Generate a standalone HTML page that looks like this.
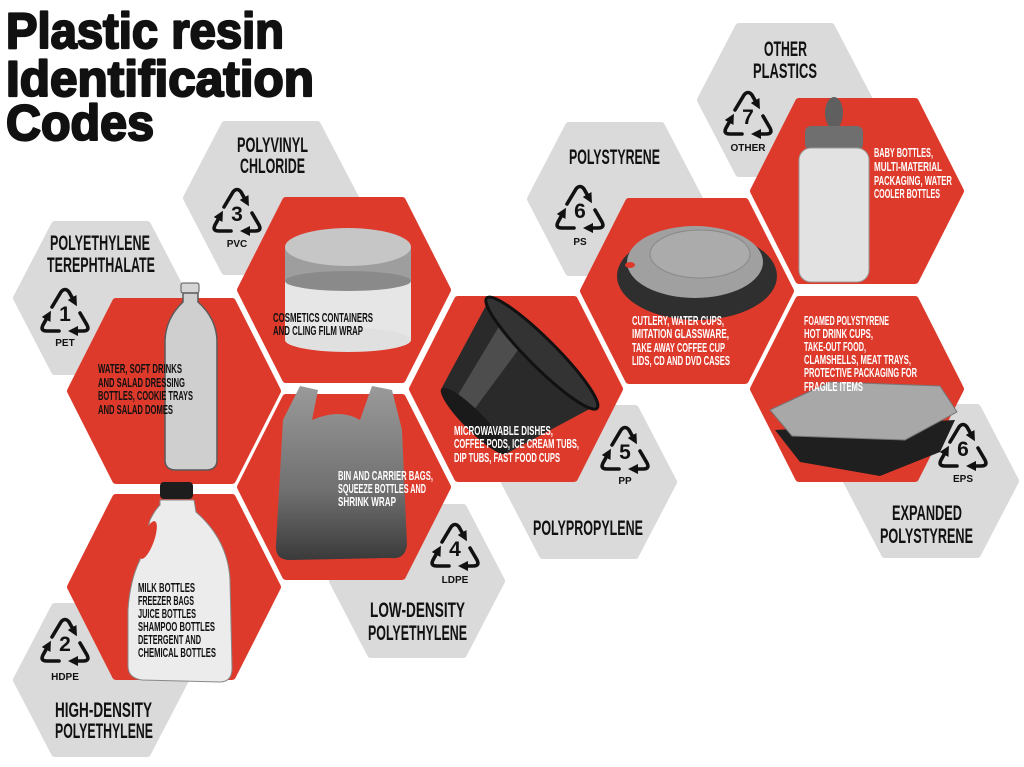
<!DOCTYPE html>
<html><head><meta charset="utf-8"><style>
html,body{margin:0;padding:0;background:#fff;}
svg{display:block;}
.t{font-family:"Liberation Sans",sans-serif;font-weight:bold;}
.lab{font-family:"Liberation Sans",sans-serif;font-weight:bold;font-size:21px;fill:#111;}
.sm{font-family:"Liberation Sans",sans-serif;font-weight:bold;font-size:12.5px;}
.w{fill:#fff;} .b{fill:#111;}
.code{font-family:"Liberation Sans",sans-serif;font-weight:bold;font-size:10px;fill:#111;text-anchor:middle;}
.num{font-family:"Liberation Sans",sans-serif;font-weight:bold;font-size:21px;fill:#111;text-anchor:middle;}
</style></head><body>
<svg width="1024" height="767" viewBox="0 0 1024 767" xmlns="http://www.w3.org/2000/svg">
<defs>
<marker id="ah" viewBox="0 0 10 10" refX="4" refY="5" markerWidth="2.8" markerHeight="2.8" orient="auto"><path d="M0,0 L10,5 L0,10 z" fill="#111"/></marker>
<symbol id="rc" viewBox="-28 -26 56 52">
<g fill="none" stroke="#111" stroke-width="3.6" stroke-linejoin="round" stroke-linecap="round">
<path d="M-13,-4 L-4,-19 Q0,-24 4,-19 L9,-10" marker-end="url(#ah)"/>
<path d="M15,2 L22,14 Q25,20 18,20 L9,20" marker-end="url(#ah)"/>
<path d="M-6,20 L-18,20 Q-25,20 -22,14 L-17,5" marker-end="url(#ah)"/>
</g>
</symbol>
<linearGradient id="bag" x1="0" y1="0" x2="0" y2="1"><stop offset="0" stop-color="#9a9a9a"/><stop offset="0.6" stop-color="#707070"/><stop offset="1" stop-color="#3a3a3a"/></linearGradient>
</defs>

<!-- gray hexes -->
<g fill="#dadada" stroke="#dadada" stroke-width="8" stroke-linejoin="round">
<polygon points="17,298 55,225 147,225 185,298 147,371 55,371"/>
<polygon points="187,198 225,125 317,125 355,198 317,271 225,271"/>
<polygon points="17,680 55,607 147,607 185,680 147,753 55,753"/>
<polygon points="333,581 371,508 463,508 501,581 463,654 371,654"/>
<polygon points="505,482 543,409 635,409 673,482 635,555 543,555"/>
<polygon points="531,199 569,126 661,126 699,199 661,272 569,272"/>
<polygon points="701,100 739,27 831,27 869,100 831,173 739,173"/>
<polygon points="847,481 885,408 977,408 1015,481 977,554 885,554"/>
</g>
<!-- red hexes -->
<g fill="#de3a2c" stroke="#de3a2c" stroke-width="8" stroke-linejoin="round">
<polygon points="71,391 116,302 232,302 277,391 232,480 116,480"/>
<polygon points="71,587 116,498 232,498 277,587 232,676 116,676"/>
<polygon points="241,290 286,201 402,201 447,290 402,379 286,379"/>
<polygon points="241,487 286,398 402,398 447,487 402,576 286,576"/>
<polygon points="413,389 458,300 574,300 619,389 574,478 458,478"/>
<polygon points="584,291 629,202 745,202 790,291 745,380 629,380"/>
<polygon points="754,191 799,102 915,102 960,191 915,280 799,280"/>
<polygon points="754,389 799,300 915,300 960,389 915,478 799,478"/>
</g>

<!-- title -->
<g stroke="#111" stroke-width="2.2" stroke-linejoin="round" fill="#111">
<text class="t" x="6" y="48" font-size="50" textLength="278" lengthAdjust="spacingAndGlyphs">Plastic resin</text>
<text class="t" x="6" y="96" font-size="50" textLength="308" lengthAdjust="spacingAndGlyphs">Identification</text>
<text class="t" x="6" y="140" font-size="50" textLength="148" lengthAdjust="spacingAndGlyphs">Codes</text>
</g>

<!-- images -->
<rect x="181" y="283" width="18" height="10" rx="2" fill="#d5d5d5" stroke="#555"/>
<path d="M183,293 L183,302 Q166,318 165,340 L165,460 Q165,470 176,470 L206,470 Q217,470 217,460 L217,340 Q216,318 198,302 L198,293 Z" fill="#cfcfcf" stroke="#5a5a5a" stroke-width="1.5"/>
<path d="M160,500 L194,500 L196,512 Q228,540 230,580 L232,668 Q232,682 220,682 L142,680 Q128,678 128,666 L128,610 Q130,580 140,560 L150,520 Q155,510 160,505 Z" fill="#ececec" stroke="#888"/>
<rect x="160" y="482" width="33" height="17" rx="4" fill="#1d1d1d"/>
<ellipse cx="148" cy="540" rx="6" ry="20" transform="rotate(20 148 540)" fill="#de3a2c"/>
<rect x="285" y="262" width="126" height="78" fill="#e6e6e6"/>
<ellipse cx="348" cy="340" rx="63" ry="12" fill="#e0e0e0"/>
<rect x="285" y="247" width="126" height="34" fill="#9e9e9e"/>
<ellipse cx="348" cy="281" rx="63" ry="10" fill="#8a8a8a"/>
<ellipse cx="348" cy="247" rx="63" ry="19" fill="#c6c6c6"/>
<path d="M283,420 L300,386 L318,390 L312,420 Q340,408 360,420 L372,386 L392,390 L402,430 L407,545 Q405,560 390,558 L290,560 Q275,560 276,545 Z" fill="url(#bag)"/>
<g transform="translate(515,380) rotate(-45)">
<path d="M-58,-46 L35,-74 L35,74 L-58,46 Z" fill="#2a2a2a"/>
<path d="M-50,-30 L30,-50 L30,-20 L-50,-8 Z" fill="#666" opacity="0.6"/>
<ellipse cx="-58" cy="0" rx="10" ry="46" fill="#1a1a1a"/>
<ellipse cx="38" cy="0" rx="14" ry="78" fill="#333" stroke="#111" stroke-width="3"/>
</g>
<ellipse cx="697" cy="276" rx="80" ry="44" fill="#2f2f2f"/>
<ellipse cx="695" cy="262" rx="68" ry="36" fill="#a0a0a0"/>
<ellipse cx="700" cy="254" rx="50" ry="24" fill="#ababab" stroke="#888"/>
<ellipse cx="630" cy="265" rx="5" ry="3" fill="#de3a2c"/>
<ellipse cx="834" cy="113" rx="9" ry="16" fill="#5f5f5f"/>
<rect x="805" y="126" width="58" height="24" rx="6" fill="#6f6f6f"/>
<rect x="799" y="148" width="70" height="134" rx="12" fill="#e2e2e2" stroke="#999"/>
<path d="M775,430 L955,420 L940,452 L880,476 L800,462 Z" fill="#1f1f1f"/>
<path d="M770,410 L830,382 L940,386 L957,412 L905,440 L792,436 Z" fill="#a8a8a8" stroke="#777"/>

<!-- recycle symbols -->
<use href="#rc" x="37" y="285" width="56" height="52"/>
<use href="#rc" x="209" y="185" width="56" height="52"/>
<use href="#rc" x="37" y="615" width="56" height="52"/>
<use href="#rc" x="427" y="520" width="56" height="52"/>
<use href="#rc" x="597" y="423" width="56" height="52"/>
<use href="#rc" x="552" y="182" width="56" height="52"/>
<use href="#rc" x="720" y="88" width="56" height="52"/>
<use href="#rc" x="935" y="420" width="56" height="52"/>
<text class="num" x="65" y="321">1</text><text class="code" x="65" y="346">PET</text>
<text class="num" x="237" y="221">3</text><text class="code" x="237" y="247">PVC</text>
<text class="num" x="65" y="651">2</text><text class="code" x="65" y="680">HDPE</text>
<text class="num" x="455" y="556">4</text><text class="code" x="455" y="583">LDPE</text>
<text class="num" x="625" y="459">5</text><text class="code" x="625" y="484">PP</text>
<text class="num" x="580" y="218">6</text><text class="code" x="580" y="245">PS</text>
<text class="num" x="748" y="124">7</text><text class="code" x="748" y="151">OTHER</text>
<text class="num" x="963" y="456">6</text><text class="code" x="963" y="482">EPS</text>

<!-- gray labels -->
<text class="lab" x="50" y="250" textLength="100" lengthAdjust="spacingAndGlyphs">POLYETHYLENE</text>
<text class="lab" x="47" y="272" textLength="108" lengthAdjust="spacingAndGlyphs">TEREPHTHALATE</text>
<text class="lab" x="237" y="152" textLength="71" lengthAdjust="spacingAndGlyphs">POLYVINYL</text>
<text class="lab" x="240" y="173" textLength="65" lengthAdjust="spacingAndGlyphs">CHLORIDE</text>
<text class="lab" x="55" y="717" textLength="97" lengthAdjust="spacingAndGlyphs">HIGH-DENSITY</text>
<text class="lab" x="55" y="738" textLength="98" lengthAdjust="spacingAndGlyphs">POLYETHYLENE</text>
<text class="lab" x="370" y="617" textLength="95" lengthAdjust="spacingAndGlyphs">LOW-DENSITY</text>
<text class="lab" x="368" y="640" textLength="99" lengthAdjust="spacingAndGlyphs">POLYETHYLENE</text>
<text class="lab" x="533" y="535" textLength="110" lengthAdjust="spacingAndGlyphs">POLYPROPYLENE</text>
<text class="lab" x="569" y="164" textLength="91" lengthAdjust="spacingAndGlyphs">POLYSTYRENE</text>
<text class="lab" x="764" y="56" textLength="43" lengthAdjust="spacingAndGlyphs">OTHER</text>
<text class="lab" x="753" y="78" textLength="64" lengthAdjust="spacingAndGlyphs">PLASTICS</text>
<text class="lab" x="892" y="520" textLength="70" lengthAdjust="spacingAndGlyphs">EXPANDED</text>
<text class="lab" x="880" y="543" textLength="93" lengthAdjust="spacingAndGlyphs">POLYSTYRENE</text>

<!-- red hex descriptions -->
<g class="sm b">
<text x="98" y="373" textLength="84" lengthAdjust="spacingAndGlyphs">WATER, SOFT DRINKS</text>
<text x="98" y="387" textLength="87" lengthAdjust="spacingAndGlyphs">AND SALAD DRESSING</text>
<text x="98" y="400" textLength="95" lengthAdjust="spacingAndGlyphs">BOTTLES, COOKIE TRAYS</text>
<text x="98" y="414" textLength="75" lengthAdjust="spacingAndGlyphs">AND SALAD DOMES</text>
<text x="273" y="322" textLength="100" lengthAdjust="spacingAndGlyphs">COSMETICS CONTAINERS</text>
<text x="273" y="335" textLength="90" lengthAdjust="spacingAndGlyphs">AND CLING FILM WRAP</text>
<text x="138" y="592" textLength="57" lengthAdjust="spacingAndGlyphs">MILK BOTTLES</text>
<text x="138" y="605" textLength="56" lengthAdjust="spacingAndGlyphs">FREEZER BAGS</text>
<text x="138" y="618" textLength="58" lengthAdjust="spacingAndGlyphs">JUICE BOTTLES</text>
<text x="138" y="631" textLength="77" lengthAdjust="spacingAndGlyphs">SHAMPOO BOTTLES</text>
<text x="138" y="644" textLength="63" lengthAdjust="spacingAndGlyphs">DETERGENT AND</text>
<text x="138" y="657" textLength="78" lengthAdjust="spacingAndGlyphs">CHEMICAL BOTTLES</text>
</g>
<g class="sm w">
<text x="338" y="480" textLength="95" lengthAdjust="spacingAndGlyphs">BIN AND CARRIER BAGS,</text>
<text x="338" y="493" textLength="88" lengthAdjust="spacingAndGlyphs">SQUEEZE BOTTLES AND</text>
<text x="338" y="506" textLength="58" lengthAdjust="spacingAndGlyphs">SHRINK WRAP</text>
<text x="454" y="435" textLength="99" lengthAdjust="spacingAndGlyphs">MICROWAVABLE DISHES,</text>
<text x="454" y="448" textLength="125" lengthAdjust="spacingAndGlyphs">COFFEE PODS, ICE CREAM TUBS,</text>
<text x="454" y="462" textLength="106" lengthAdjust="spacingAndGlyphs">DIP TUBS, FAST FOOD CUPS</text>
<text x="632" y="325" textLength="92" lengthAdjust="spacingAndGlyphs">CUTLERY, WATER CUPS,</text>
<text x="632" y="338" textLength="97" lengthAdjust="spacingAndGlyphs">IMITATION GLASSWARE,</text>
<text x="632" y="352" textLength="93" lengthAdjust="spacingAndGlyphs">TAKE AWAY COFFEE CUP</text>
<text x="632" y="365" textLength="98" lengthAdjust="spacingAndGlyphs">LIDS, CD AND DVD CASES</text>
<text x="874" y="157" textLength="59" lengthAdjust="spacingAndGlyphs">BABY BOTTLES,</text>
<text x="874" y="171" textLength="68" lengthAdjust="spacingAndGlyphs">MULTI-MATERIAL</text>
<text x="874" y="185" textLength="78" lengthAdjust="spacingAndGlyphs">PACKAGING, WATER</text>
<text x="874" y="198" textLength="66" lengthAdjust="spacingAndGlyphs">COOLER BOTTLES</text>
<text x="804" y="325" textLength="85" lengthAdjust="spacingAndGlyphs">FOAMED POLYSTYRENE</text>
<text x="804" y="338" textLength="69" lengthAdjust="spacingAndGlyphs">HOT DRINK CUPS,</text>
<text x="804" y="351" textLength="62" lengthAdjust="spacingAndGlyphs">TAKE-OUT FOOD,</text>
<text x="804" y="364" textLength="107" lengthAdjust="spacingAndGlyphs">CLAMSHELLS, MEAT TRAYS,</text>
<text x="804" y="377" textLength="113" lengthAdjust="spacingAndGlyphs">PROTECTIVE PACKAGING FOR</text>
<text x="804" y="391" textLength="59" lengthAdjust="spacingAndGlyphs">FRAGILE ITEMS</text>
</g>
</svg>
</body></html>
